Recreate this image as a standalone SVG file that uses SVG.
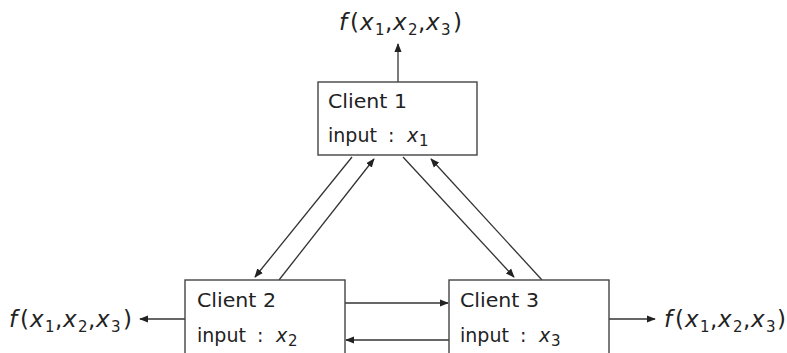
<svg xmlns="http://www.w3.org/2000/svg" width="787" height="353" viewBox="0 0 787 353">
<defs>
<marker id="ah" viewBox="0 0 10 10" refX="9" refY="5" markerWidth="9" markerHeight="9" markerUnits="userSpaceOnUse" orient="auto">
<path d="M0,1 L10,5 L0,9 Z" fill="#222"/>
</marker>
</defs>
<style>
.box{fill:#fff;stroke:#444;stroke-width:1.4}
.t{font-family:"DejaVu Sans","Liberation Sans",sans-serif;font-size:19px;fill:#222}
.m{font-family:"DejaVu Sans","Liberation Sans",sans-serif;font-size:23px;fill:#222}
.i{font-style:italic}
.s{font-size:15px;font-style:normal}
.c{stroke:#333;stroke-width:1.3;fill:none;marker-end:url(#ah)}
</style>
<rect width="787" height="353" fill="#fff"/>
<g id="connectors">
<line class="c" x1="398" y1="82" x2="398" y2="44"/>
<line class="c" x1="352" y1="157" x2="255" y2="277"/>
<line class="c" x1="279" y1="280" x2="374" y2="159"/>
<line class="c" x1="403" y1="157" x2="514" y2="277"/>
<line class="c" x1="542" y1="280" x2="431" y2="159"/>
<line class="c" x1="345" y1="303" x2="448" y2="303"/>
<line class="c" x1="449" y1="340" x2="346" y2="340"/>
<line class="c" x1="185" y1="319" x2="140" y2="319"/>
<line class="c" x1="609" y1="319" x2="655" y2="319"/>
</g>
<g id="client1">
<rect class="box" x="318" y="82" width="159" height="73"/>
<text class="t" x="328" y="108" textLength="79" lengthAdjust="spacingAndGlyphs">Client 1</text>
<text class="t" x="328" y="142">input<tspan x="388">:</tspan><tspan class="i" x="407">x</tspan><tspan class="s" x="419" dy="4">1</tspan></text>
</g>
<g id="client2">
<rect class="box" x="185" y="280" width="160" height="80"/>
<text class="t" x="197" y="307" textLength="79" lengthAdjust="spacingAndGlyphs">Client 2</text>
<text class="t" x="197" y="342">input<tspan x="257">:</tspan><tspan class="i" x="276">x</tspan><tspan class="s" x="288" dy="4">2</tspan></text>
</g>
<g id="client3">
<rect class="box" x="449" y="280" width="160" height="80"/>
<text class="t" x="460" y="307" textLength="79" lengthAdjust="spacingAndGlyphs">Client 3</text>
<text class="t" x="460" y="342">input<tspan x="520">:</tspan><tspan class="i" x="539">x</tspan><tspan class="s" x="551" dy="4">3</tspan></text>
</g>
<g id="out1">
<text class="m" x="339" y="30"><tspan class="i">f</tspan><tspan x="350">(</tspan><tspan class="i" x="360">x</tspan><tspan class="s" x="375" dy="5">1</tspan><tspan x="385" dy="-5">,</tspan><tspan class="i" x="393">x</tspan><tspan class="s" x="408" dy="5">2</tspan><tspan x="418" dy="-5">,</tspan><tspan class="i" x="426">x</tspan><tspan class="s" x="441" dy="5">3</tspan><tspan x="453" dy="-5">)</tspan></text>
</g>
<g id="out2">
<text class="m" x="9" y="327"><tspan class="i">f</tspan><tspan x="20">(</tspan><tspan class="i" x="30">x</tspan><tspan class="s" x="45" dy="5">1</tspan><tspan x="55" dy="-5">,</tspan><tspan class="i" x="63">x</tspan><tspan class="s" x="78" dy="5">2</tspan><tspan x="88" dy="-5">,</tspan><tspan class="i" x="96">x</tspan><tspan class="s" x="111" dy="5">3</tspan><tspan x="123" dy="-5">)</tspan></text>
</g>
<g id="out3">
<text class="m" x="664" y="327"><tspan class="i">f</tspan><tspan x="675">(</tspan><tspan class="i" x="685">x</tspan><tspan class="s" x="700" dy="5">1</tspan><tspan x="710" dy="-5">,</tspan><tspan class="i" x="718">x</tspan><tspan class="s" x="733" dy="5">2</tspan><tspan x="743" dy="-5">,</tspan><tspan class="i" x="751">x</tspan><tspan class="s" x="766" dy="5">3</tspan><tspan x="777" dy="-5">)</tspan></text>
</g>
</svg>
